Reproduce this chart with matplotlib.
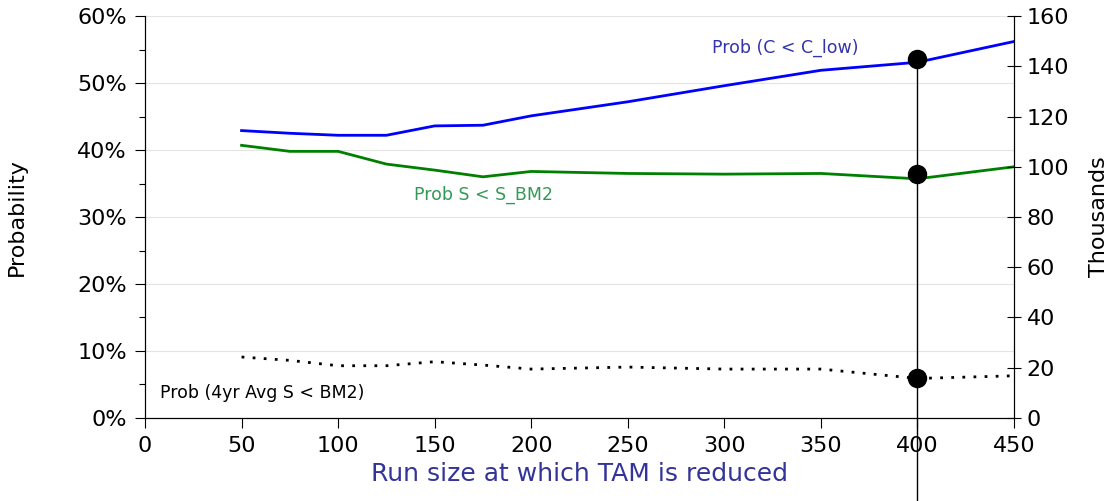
import matplotlib.pyplot as plt
from matplotlib.ticker import FuncFormatter, MultipleLocator

# Run size thresholds
run_size = [50, 75, 100, 125, 150, 175, 200, 250, 300, 350, 400, 450]

# Probabilities (%)
prob_c_low = [42.9, 42.5, 42.2, 42.2, 43.6, 43.7, 45.1, 47.2, 49.6, 51.9, 53.1, 56.2]
prob_s_bm2 = [40.7, 39.8, 39.8, 37.9, 37.0, 36.0, 36.8, 36.5, 36.4, 36.5, 35.7, 37.5]
prob_4yr_avg = [9.1, 8.6, 7.8, 7.8, 8.4, 7.9, 7.3, 7.6, 7.3, 7.3, 5.9, 6.3]

# Selected point (right axis, thousands)
sel_x = 400
sel_vals = [143, 97, 16]

plt.rcParams['font.family'] = ['DejaVu Sans']

fig = plt.figure(figsize=(11.12, 5.01), dpi=100)
ax = fig.add_axes([0.1304, 0.1657, 0.7815, 0.8023])
ax2 = ax.twinx()

ax.plot(run_size, prob_c_low, color='#0000ff', lw=2)
ax.plot(run_size, prob_s_bm2, color='#008000', lw=2)
ax.plot(run_size, prob_4yr_avg, color='black', lw=2, linestyle=(0, (1, 3)))

# drop line and markers
ax2.plot([sel_x, sel_x], [max(sel_vals), -33], color='black', lw=1, clip_on=False)
ax2.plot([sel_x] * len(sel_vals), sel_vals, 'o', color='black', ms=13, clip_on=False)

ax.set_xlim(0, 450)
ax.set_ylim(0, 60)
ax2.set_ylim(0, 160)

ax.xaxis.set_major_locator(MultipleLocator(50))
ax.yaxis.set_major_locator(MultipleLocator(10))
ax.yaxis.set_minor_locator(MultipleLocator(5))
ax.yaxis.set_major_formatter(FuncFormatter(lambda v, p: '%d%%' % v))
ax2.yaxis.set_major_locator(MultipleLocator(20))

ax.grid(axis='y', color='#e4e4e4', lw=0.8)
ax.set_axisbelow(True)

for a in (ax, ax2):
    a.spines['top'].set_visible(False)
    for s in a.spines.values():
        s.set_linewidth(0.8)

ax.tick_params(axis='both', which='major', labelsize=16, length=7, width=0.8, pad=6)
ax.tick_params(axis='y', which='minor', length=4, width=0.8)
ax2.tick_params(axis='y', which='major', direction='inout', labelsize=16, length=10, width=0.8, pad=4)

ax.set_ylabel('Probability', fontsize=16, labelpad=36)
ax2.set_ylabel('Thousands', fontsize=16, labelpad=14)
ax.set_xlabel('Run size at which TAM is reduced', fontsize=18, color='#333399', labelpad=4)

ax.text(712 / 1112, 1 - 48 / 501, 'Prob (C < C_low)', transform=fig.transFigure,
        fontsize=12.5, color='#3333aa', va='center')
ax.text(414 / 1112, 1 - 195 / 501, 'Prob S < S_BM2', transform=fig.transFigure,
        fontsize=12.5, color='#339955', va='center')
ax.text(160 / 1112, 1 - 393 / 501, 'Prob (4yr Avg S < BM2)', transform=fig.transFigure,
        fontsize=12.5, color='black', va='center')

fig.savefig('out.png', dpi=100)
